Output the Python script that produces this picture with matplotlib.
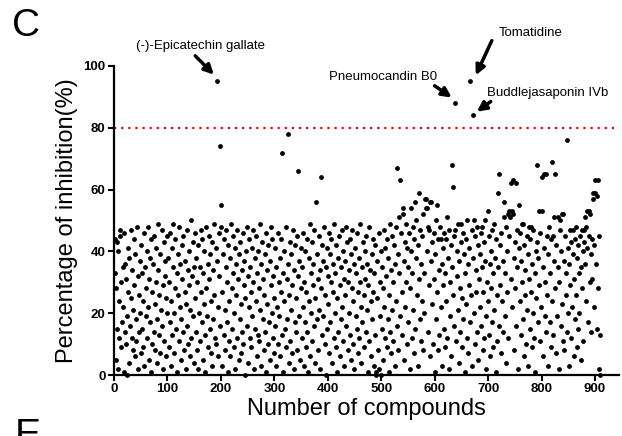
import numpy as np
import matplotlib
matplotlib.use("Agg")
import matplotlib.pyplot as plt

plt.rcParams['font.family'] = ['Liberation Sans', 'DejaVu Sans']

# inhibition (%) for compounds 1..N, read row by row (10 per row)
inhibition = [
    33,44,5,28,15,43,2,40,12,24,
    45,47,30,9,17,35,22,1,46,14,
    36,10,31,19,0,27,41,38,4,16,
    25,47,12,34,8,21,44,29,6,39,
    11,18,48,2,32,14,26,37,20,7,
    42,15,33,9,24,46,3,35,19,28,
    12,40,48,22,5,31,38,17,44,1,
    27,10,36,45,14,23,8,30,41,18,
    4,34,49,26,13,39,7,21,47,16,
    29,2,43,11,37,32,6,25,20,45,
    38,9,30,17,46,24,3,41,13,35,
    49,20,7,28,44,15,33,1,26,39,
    11,48,22,36,5,18,42,31,14,45,
    8,27,37,2,23,47,16,34,10,29,
    40,6,21,50,12,32,43,19,4,35,
    25,46,14,38,8,30,42,2,20,35,
    11,47,27,17,44,5,33,23,40,13,
    1,28,48,19,36,9,45,31,15,39,
    7,24,43,3,34,18,49,26,12,10,
    41,37,95,22,6,46,32,74,16,55,
    48,3,27,39,13,44,21,8,35,47,
    17,30,1,42,24,11,38,6,49,28,
    15,33,45,9,20,41,2,36,26,12,
    47,31,5,39,18,43,23,7,34,14,
    46,10,29,37,0,25,40,16,48,32,
    4,22,44,12,35,27,9,41,19,30,
    47,2,38,15,24,45,6,33,13,40,
    28,11,49,21,36,3,43,18,31,8,
    26,39,14,46,1,34,23,10,42,17,
    37,5,29,48,20,44,12,32,7,25,
    41,16,35,3,22,46,10,30,19,38,
    6,27,44,72,13,33,1,24,40,15,
    48,9,31,18,36,78,4,26,43,11,
    21,39,7,29,47,2,34,17,42,14,
    25,45,8,32,66,19,37,5,28,41,
    12,35,22,46,3,30,17,40,9,27,
    44,14,1,38,24,49,6,33,20,43,
    11,29,36,16,47,4,25,56,39,18,
    31,8,45,21,34,2,64,28,13,42,
    37,19,48,10,26,35,0,41,15,32,
    23,46,7,39,17,30,44,4,27,36,
    12,49,20,33,9,42,25,1,38,14,
    45,29,6,35,18,47,22,40,11,31,
    3,37,26,48,16,43,8,30,20,34,
    44,13,39,5,28,47,10,24,36,2,
    41,19,33,15,46,7,27,38,12,30,
    49,22,4,35,17,43,26,9,40,31,
    14,45,21,36,1,29,48,11,34,24,
    6,39,18,44,27,3,33,13,42,0,
    1,25,37,8,46,2,30,19,0,40,
    15,35,28,5,47,22,12,41,32,9,
    44,18,38,1,26,49,14,34,7,45,
    21,30,11,42,36,3,48,24,67,16,
    39,8,33,51,19,63,46,27,13,54,
    52,5,37,43,22,49,30,10,41,17,
    35,46,2,28,40,54,12,33,48,21,
    7,44,56,15,38,50,26,3,42,31,
    59,18,47,11,36,24,45,8,52,33,
    20,57,57,54,40,54,14,48,29,47,
    6,56,37,56,23,43,10,46,31,1,
    39,18,50,55,27,8,44,34,13,48,
    44,22,36,3,41,29,15,46,9,33,
    44,24,51,12,38,2,47,30,19,42,
    6,35,68,26,61,16,45,88,47,11,
    32,40,21,49,4,37,28,14,49,43,
    9,25,46,18,39,1,33,44,23,12,
    50,36,7,29,41,17,95,26,47,3,
    38,84,50,20,45,10,34,27,48,14,
    42,5,31,39,22,46,16,48,35,8,
    27,43,12,50,37,19,2,30,53,24,
    45,13,36,6,40,28,17,47,33,9,
    49,21,38,1,44,26,11,35,59,16,
    65,42,29,7,46,24,37,14,51,56,
    19,33,48,4,40,27,52,12,53,45,
    51,31,62,53,22,52,63,38,8,43,
    28,62,16,47,35,2,41,55,24,46,
    13,37,30,49,18,49,6,42,26,34,
    10,45,21,39,3,31,48,15,44,27,
    48,9,36,20,47,12,33,1,40,25,
    43,68,17,38,53,29,11,46,22,64,
    53,6,35,65,41,19,30,14,65,45,
    26,3,39,48,17,33,9,44,24,69,
    13,45,37,51,65,28,7,42,19,35,
    51,2,30,50,47,16,40,52,23,11,
    52,37,8,45,26,33,76,14,41,20,
    3,36,47,29,12,43,22,39,47,6,
    31,18,44,48,26,9,38,15,42,33,
    20,45,5,35,47,28,40,11,43,47,
    51,36,48,24,53,41,17,45,53,30,
    52,39,14,44,31,59,57,22,42,63,
    59,36,15,58,63,28,45,2,13,0,
]
compound_no = np.arange(1, len(inhibition) + 1)

threshold = 80
x_ticks = [0, 100, 200, 300, 400, 500, 600, 700, 800, 900]
y_ticks = [0, 20, 40, 60, 80, 100]

hit_names = ["(-)-Epicatechin gallate", "Tomatidine", "Pneumocandin B0", "Buddlejasaponin IVb"]
hit_ids = [193, 667, 638, 672]

fig = plt.figure(figsize=(6.22, 4.36), dpi=100)
ax = fig.add_axes([114/622, 1 - 375/436, 505/622, (375 - 66)/436])

ax.scatter(compound_no, inhibition, s=12, color='black', linewidths=0, clip_on=False, zorder=3)
ax.axhline(threshold, color='red', linestyle=(0, (1, 2.2)), lw=1.6, zorder=2)

ax.set_xlim(0, 945)
ax.set_ylim(0, 100)
ax.set_xticks(x_ticks)
ax.set_yticks(y_ticks)
for lab in ax.get_xticklabels() + ax.get_yticklabels():
    lab.set_fontweight('bold')
    lab.set_fontsize(9.5)
ax.tick_params(direction='out', length=4, width=1.5, pad=2)

for s in ['top', 'right']:
    ax.spines[s].set_visible(False)
for s in ['left', 'bottom']:
    ax.spines[s].set_linewidth(1.6)

ax.set_xlabel("Number of compounds", fontsize=17, labelpad=2)
ax.set_ylabel("Percentage of inhibition(%)", fontsize=17, labelpad=4)

# annotations: text position and arrow tail/head in data coordinates
text_pos = [(161, 106.5), (780, 110.7), (503, 96.4), (812, 91.3)]
arrow_tail = [(152, 103.3), (707, 108.2), (600, 93.6), (705, 88.5)]
arrow_head = [(187, 97.2), (677, 97.0), (632, 89.8), (679, 85.2)]
for name, tp, tl, hd in zip(hit_names, text_pos, arrow_tail, arrow_head):
    ax.text(tp[0], tp[1], name, fontsize=9.5, ha='center', va='center', clip_on=False)
    ax.annotate('', xy=hd, xytext=tl, annotation_clip=False,
                arrowprops=dict(arrowstyle='-|>', lw=2.5, color='black',
                                mutation_scale=14, shrinkA=0, shrinkB=0))

fig.text(26/622, 1 - 26/436, "C", fontsize=28, ha='center', va='center')
fig.text(28/622, 1 - 436/436, "E", fontsize=28, ha='center', va='center')

fig.savefig("out.png", dpi=100)
